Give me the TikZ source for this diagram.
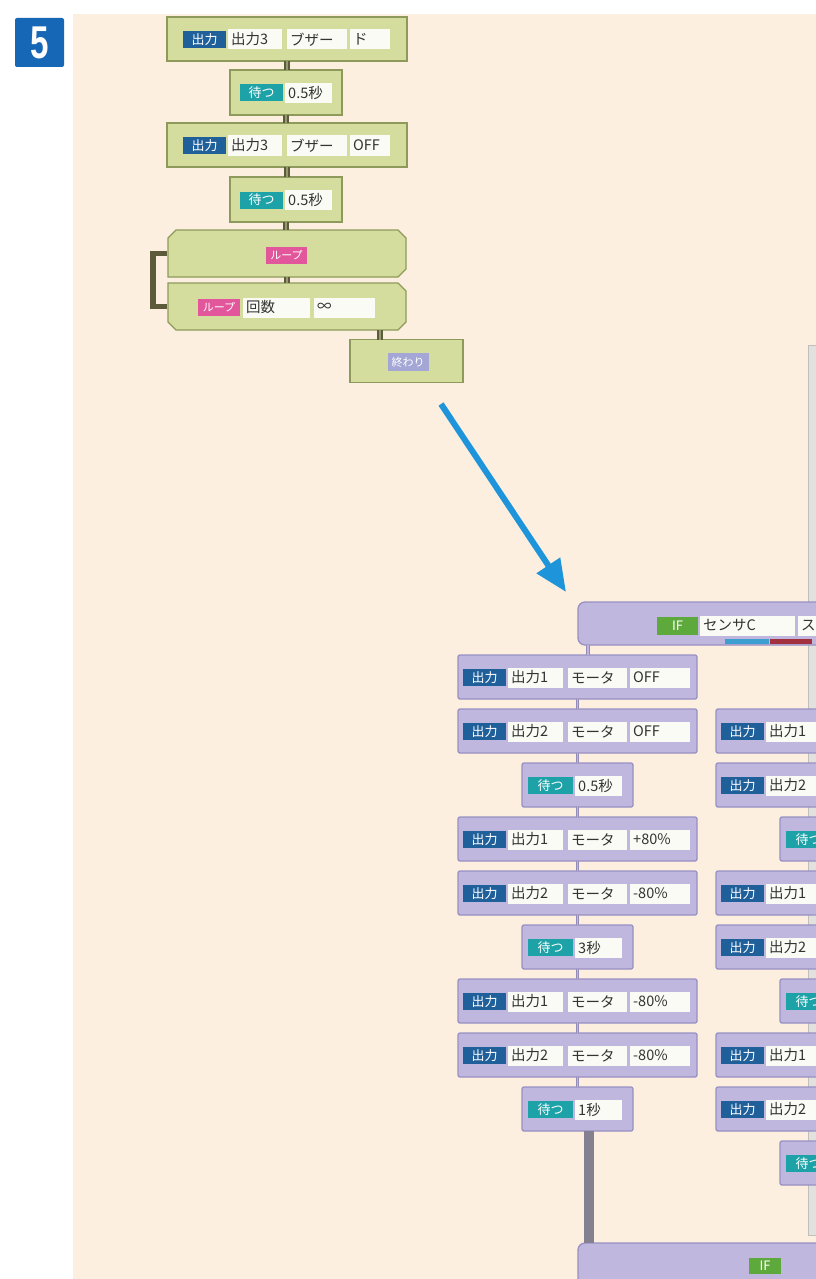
\documentclass[tikz,border=0pt]{standalone}
\usepackage{fontspec}
\setmainfont{Noto Sans CJK JP}
\newfontfamily\badgefont{Liberation Sans}
\usetikzlibrary{arrows.meta}
\definecolor{bgbeige}{HTML}{FCEFDF}
\definecolor{gfill}{HTML}{D5DD9E}
\definecolor{gborder}{HTML}{8D9A5B}
\definecolor{pfill}{HTML}{BFB7DD}
\definecolor{pborder}{HTML}{9890C2}
\definecolor{outblue}{HTML}{1F5F9A}
\definecolor{waitteal}{HTML}{1DA2A8}
\definecolor{looppink}{HTML}{E2579B}
\definecolor{endlav}{HTML}{A4A7D5}
\definecolor{ifgreen}{HTML}{5EA93B}
\definecolor{barblue}{HTML}{3C9FCF}
\definecolor{barred}{HTML}{A3303F}
\definecolor{arrowblue}{HTML}{1E95DA}
\definecolor{badgeblue}{HTML}{1667B5}
\definecolor{txt}{HTML}{333333}
\definecolor{vbarc}{HTML}{858090}
\definecolor{panelc}{HTML}{E2E1DE}
\definecolor{bracketc}{HTML}{5C5C3C}
\definecolor{fldc}{HTML}{FBFBF6}
\tikzset{
  gblk/.style={draw=gborder, fill=gfill, line width=1.3pt, inner sep=0pt, outer sep=0pt},
  pblk/.style={draw=pborder, fill=pfill, line width=1.3pt, rounded corners=2pt, inner sep=0pt, outer sep=0pt},
  holder/.style={inner sep=0pt, outer sep=0pt},
  lbl/.style={inner sep=0pt, minimum height=17, text=white, font=\fontsize{13}{13}\selectfont},
  fld/.style={fill=fldc, inner sep=0pt, minimum height=20, anchor=west, text=txt, font=\fontsize{14.5}{14.5}\selectfont},
  gconn/.style={draw=bracketc, line width=2.2pt, double=gfill!70!black, double distance=1.2pt},
  pconn/.style={draw=pborder!80!gray, line width=1pt, double=pfill, double distance=1.6pt},
  bracketln/.style={draw=bracketc, line width=5.5pt},
  vbarln/.style={draw=vbarc, line width=10pt},
  bluearrow/.style={draw=arrowblue, line width=6pt, -{Triangle[length=32pt,width=27pt]}},
  barnode/.style={inner sep=0pt, minimum height=5},
}
\newcommand\fbx[2]{\hbox to #1pt{\hspace{3pt}#2\hfil}}
% green full output row: name, top, f1, f2, f3
\newcommand\gfull[5]{%
  \node[gblk, minimum width=240, minimum height=44] (#1) at (287,#2+22) {};
  \node[lbl, fill=outblue, minimum width=43] (#1l) at (204.5,#2+22.5) {出力};
  \node[fld] (#1a) at (228,#2+22.5) {\fbx{54}{#3}};
  \node[fld] (#1b) at (287,#2+22.5) {\fbx{60}{#4}};
  \node[fld] (#1c) at (350,#2+22.5) {\fbx{40}{#5}};
}
% green wait row: name, top, text
\newcommand\gwait[3]{%
  \node[gblk, minimum width=112, minimum height=45] (#1) at (286,#2+22.5) {};
  \node[lbl, fill=waitteal, minimum width=43] (#1l) at (261.5,#2+23) {待つ};
  \node[fld] (#1a) at (285,#2+23) {\fbx{47}{#3}};
}
% purple full output row: name, left, top, f1, f2, f3
\newcommand\pfull[6]{%
  \node[pblk, minimum width=239, minimum height=44] (#1) at (#2+119.5,#3+22) {};
  \node[lbl, fill=outblue, minimum width=43] (#1l) at (#2+26.5,#3+22.5) {出力};
  \node[fld] (#1a) at (#2+50,#3+22.5) {\fbx{55}{#4}};
  \node[fld] (#1b) at (#2+110,#3+22.5) {\fbx{59}{#5}};
  \node[fld] (#1c) at (#2+172,#3+22.5) {\fbx{60}{#6}};
}
% purple output row cut by the page edge: name, left, top, f1
\newcommand\pcut[4]{%
  \node[pblk, minimum width=239, minimum height=44] (#1) at (#2+119.5,#3+22) {};
  \node[lbl, fill=outblue, minimum width=43] (#1l) at (#2+26.5,#3+22.5) {出力};
  \node[fld] (#1a) at (#2+50,#3+22.5) {\fbx{55}{#4}};
}
% purple wait row: name, left, top, text
\newcommand\pwait[4]{%
  \node[pblk, minimum width=111, minimum height=44] (#1) at (#2+119.5,#3+22) {};
  \node[lbl, fill=waitteal, minimum width=45] (#1l) at (#2+92.5,#3+22.5) {待つ};
  \node[fld] (#1a) at (#2+117,#3+22.5) {\fbx{47}{#4}};
}
\begin{document}
\begin{tikzpicture}[x=1pt,y=-1pt]
\useasboundingbox (0,0) rectangle (816,1279);
\clip (0,0) rectangle (816,1279);
\fill[white] (0,0) rectangle (816,1279);
\fill[bgbeige] (73,14) rectangle (816,1279);
% badge
\node[fill=badgeblue, minimum width=49, minimum height=49, inner sep=0pt, rounded corners=2pt, text=white,
      font=\badgefont\bfseries\fontsize{46}{46}\selectfont] (badge) at (39.5,42.5) {\scalebox{0.72}[1]{5}};
% right grey panel
\node[fill=panelc, draw=panelc!85!black, line width=0.6pt, inner sep=0pt, minimum width=24, minimum height=890] (panel) at (820,790) {};

% ---------- green program ----------
\gfull{g1}{17}{出力3}{ブザー}{ド}
\gwait{g2}{70}{0.5秒}
\gfull{g3}{123}{出力3}{ブザー}{OFF}
\gwait{g4}{177}{0.5秒}
% loop start (chamfered)
\node[holder, minimum width=238, minimum height=47] (g5) at (287,253.5) {};
\filldraw[gblk] ([xshift=8pt]g5.north west) -- ([xshift=-8pt]g5.north east) -- ([yshift=-8pt]g5.north east)
  -- ([yshift=8pt]g5.south east) -- ([xshift=-8pt]g5.south east) -- (g5.south west)
  -- ([yshift=-8pt]g5.north west) -- cycle;
\node[lbl, fill=looppink, minimum width=41, font=\fontsize{11}{11}\selectfont] (g5l) at (286.5,255) {ループ};
% loop end (chamfered)
\node[holder, minimum width=238, minimum height=47] (g6) at (287,306.5) {};
\filldraw[gblk] (g6.north west) -- ([xshift=-8pt]g6.north east) -- ([yshift=-8pt]g6.north east)
  -- ([yshift=8pt]g6.south east) -- ([xshift=-8pt]g6.south east) -- ([xshift=8pt]g6.south west)
  -- ([yshift=8pt]g6.south west) -- cycle;
\node[lbl, fill=looppink, minimum width=42, font=\fontsize{11}{11}\selectfont] (g6l) at (219,307.5) {ループ};
\node[fld] (g6a) at (243,307.5) {\fbx{67}{回数}};
\node[fld] (g6b) at (314,307.5) {\fbx{61}{∞}};
\node[gblk, minimum width=113, minimum height=43] (g7) at (406.5,361) {};
\node[lbl, fill=endlav, minimum width=41, minimum height=18, font=\fontsize{11}{11}\selectfont] (g7l) at (408,362) {終わり};
% green connectors
\foreach \a/\b in {g1/g2,g2/g3,g3/g4,g4/g5,g5/g6}
  \draw[gconn] (\a.south) -- (\a.south |- \b.north);
\draw[gconn] ([xshift=-26.5pt]g7.north) -- ([xshift=-26.5pt]g7.north |- g6.south);
\draw[bracketln] ([xshift=-1pt]g5.west) -- ++(-14,0) |- ([xshift=-1pt]g6.west);

% ---------- blue arrow ----------
\coordinate (arrs) at (441,404);
\coordinate (arre) at (566,592);
\draw[bluearrow] (arrs) -- (arre);

% ---------- purple program ----------
\node[pblk, rounded corners=7pt, minimum width=322, minimum height=43] (ift) at (739,623.5) {};
\node[lbl, fill=ifgreen, minimum width=41, minimum height=18] (iftl) at (677.5,625.5) {IF};
\node[fld] (ifta) at (700,625.5) {\fbx{95}{センサC}};
\node[fld] (iftb) at (798,625.5) {\fbx{60}{ス}};
\node[barnode, fill=barblue, minimum width=44] (iftbar1) at (747,641.5) {};
\node[barnode, fill=barred, minimum width=42] (iftbar2) at (791,641.5) {};

\pfull{pa}{458}{655}{出力1}{モータ}{OFF}
\pfull{pb}{458}{709}{出力2}{モータ}{OFF}
\pwait{pc}{458}{763}{0.5秒}
\pfull{pd}{458}{817}{出力1}{モータ}{+80\%}
\pfull{pe}{458}{871}{出力2}{モータ}{-80\%}
\pwait{pf}{458}{925}{3秒}
\pfull{pg}{458}{979}{出力1}{モータ}{-80\%}
\pfull{ph}{458}{1033}{出力2}{モータ}{-80\%}
\pwait{pi}{458}{1087}{1秒}

\pcut{ra}{716}{709}{出力1}
\pcut{rb}{716}{763}{出力2}
\pwait{rc}{716}{817}{}
\pcut{rd}{716}{871}{出力1}
\pcut{re}{716}{925}{出力2}
\pwait{rf}{716}{979}{}
\pcut{rg}{716}{1033}{出力1}
\pcut{rh}{716}{1087}{出力2}
\pwait{ri}{716}{1141}{}

\node[pblk, rounded corners=7pt, minimum width=322, minimum height=64] (ifb) at (739,1275) {};
\node[lbl, fill=ifgreen, minimum width=32, minimum height=16] (ifbl) at (765,1265.5) {IF};

% purple connectors
\draw[pconn] ([xshift=10.5pt]pa.north) -- ([xshift=10.5pt]pa.north |- ift.south);
\foreach \a/\b in {pa/pb,pb/pc,pc/pd,pd/pe,pe/pf,pf/pg,pg/ph,ph/pi}
  \draw[pconn] (\a.south) -- (\a.south |- \b.north);
\draw[vbarln] ([xshift=11.5pt]pi.south) -- ([xshift=11.5pt]pi.south |- ifb.north);
\end{tikzpicture}
\end{document}
